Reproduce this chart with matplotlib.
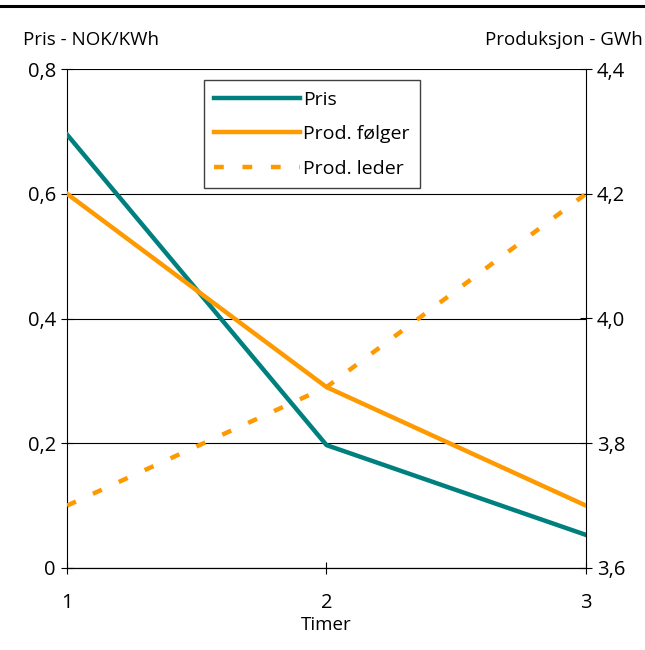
import matplotlib
matplotlib.use("Agg")
import matplotlib.pyplot as plt
from matplotlib.lines import Line2D
from matplotlib.ticker import FuncFormatter

plt.rcParams['font.family'] = ['Open Sans', 'DejaVu Sans']

timer = [1, 2, 3]
pris = [0.695, 0.197, 0.053]
prod_folger = [4.2, 3.89, 3.7]
prod_leder = [3.7, 3.89, 4.2]

left_ticks = [0, 0.2, 0.4, 0.6, 0.8]
right_ticks = [3.6, 3.8, 4.0, 4.2, 4.4]

teal = '#007f7f'
orange = '#ff9900'

fig = plt.figure(figsize=(6.45, 6.5), dpi=100)
ax = fig.add_axes([0.1039, 0.1262, 0.8046, 0.7676])
ax2 = ax.twinx()

fmt1 = FuncFormatter(lambda v, p: '0' if abs(v) < 1e-9 else ('%.1f' % v).replace('.', ','))
ax.set_xlim(1, 3)
ax.set_ylim(0, 0.8)
ax2.set_ylim(3.6, 4.4)
ax.set_xticks(timer)
ax.set_yticks(left_ticks)
ax2.set_yticks(right_ticks)
ax.yaxis.set_major_formatter(fmt1)
ax2.yaxis.set_major_formatter(fmt1)

for a in (ax, ax2):
    a.spines['top'].set_visible(False)
    for s in a.spines.values():
        s.set_linewidth(0.8)
    a.tick_params(direction='inout', length=8, width=0.8, labelsize=14.5, pad=4)
ax2.spines['left'].set_visible(False)
ax.spines['right'].set_visible(False)
ax.tick_params(axis='x', pad=14)

ax.yaxis.grid(True, color='black', linewidth=0.8)
ax.set_axisbelow(True)

l1, = ax.plot(timer, pris, color=teal, linewidth=3.2, zorder=3)
l2, = ax2.plot(timer, prod_folger, color=orange, linewidth=3.2, zorder=3)
l3, = ax2.plot(timer, prod_leder, color=orange, linewidth=3.2, linestyle=(0, (2.2, 4.2)),
               dash_capstyle='butt', zorder=3)

ax.set_xlabel('Timer', fontsize=13.5, labelpad=2)

fig.text(0.035, 0.925, 'Pris - NOK/KWh', fontsize=13.5, ha='left', va='bottom')
fig.text(0.997, 0.925, 'Produksjon - GWh', fontsize=13.5, ha='right', va='bottom')

fig.add_artist(Line2D([0, 1], [0.991, 0.991], color='black', linewidth=2.2, transform=fig.transFigure))

leg = ax2.legend([l1, l2, l3], ['Pris', 'Prod. følger', 'Prod. leder'],
                 loc='upper left', bbox_to_anchor=(0.263, 0.978), fontsize=14,
                 frameon=True, fancybox=False, edgecolor='#404040', framealpha=1,
                 handlelength=4.4, handletextpad=0.15, borderpad=0.55, labelspacing=0.85,
                 borderaxespad=0)
leg.get_frame().set_linewidth(1.0)
leg.set_zorder(5)

fig.savefig('out.png', dpi=100)
